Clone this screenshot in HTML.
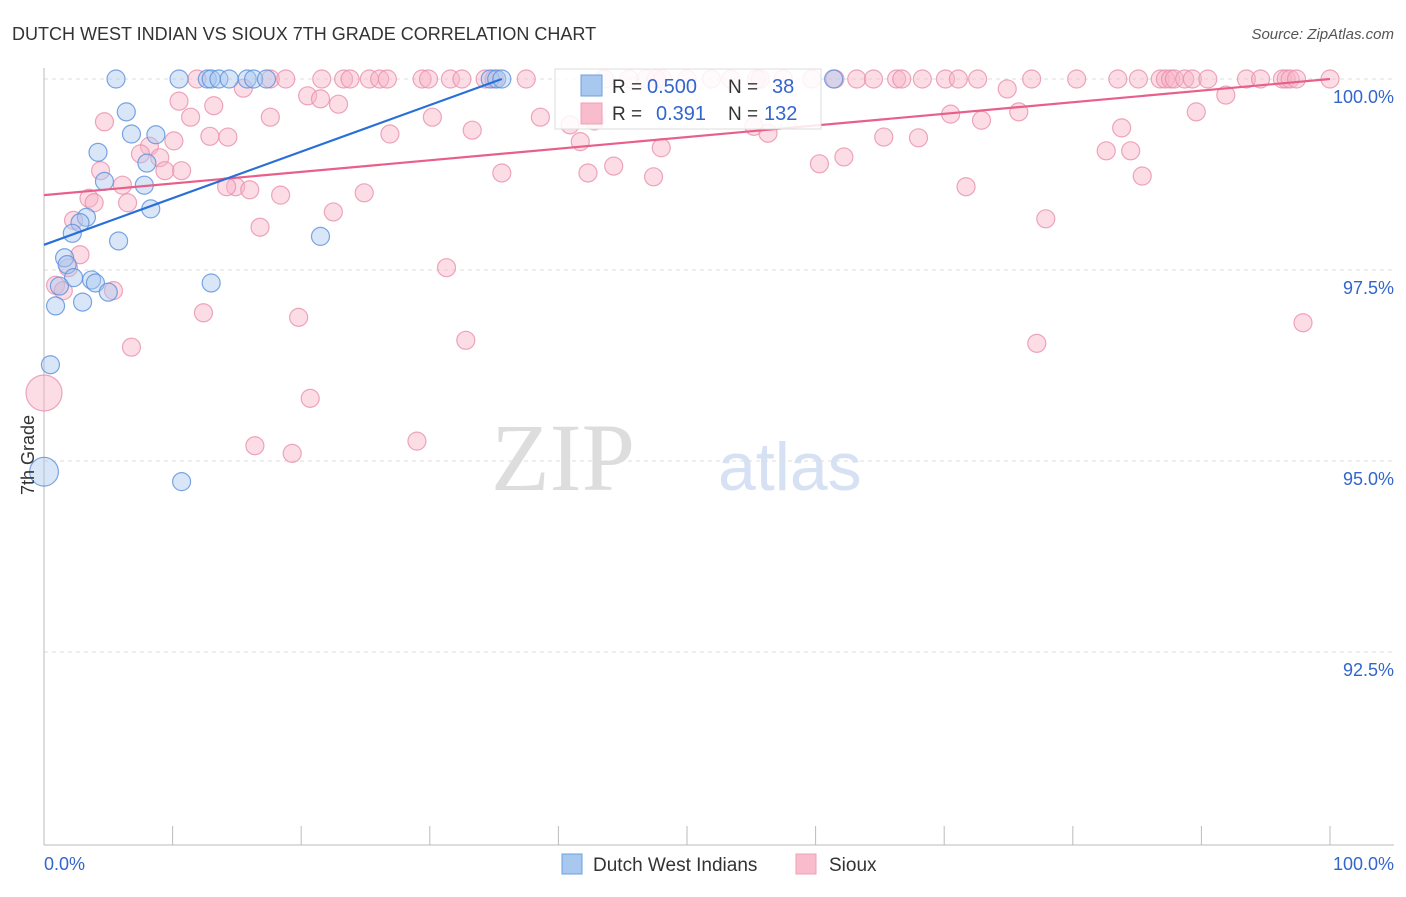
<!DOCTYPE html>
<html><head><meta charset="utf-8"><style>
body{margin:0;background:#fff;font-family:"Liberation Sans",sans-serif}
svg text{font-family:"Liberation Sans",sans-serif}
</style></head><body>
<svg id="chart" width="1406" height="892" xmlns="http://www.w3.org/2000/svg">
<text x="12" y="40" font-size="18" fill="#333">DUTCH WEST INDIAN VS SIOUX 7TH GRADE CORRELATION CHART</text>
<text x="1394" y="39" font-size="15" fill="#555" text-anchor="end" font-style="italic">Source: ZipAtlas.com</text>
<text x="635" y="490" font-size="96" fill="#ddd" text-anchor="end" font-family="Liberation Serif" style="font-family:'Liberation Serif',serif">ZIP</text>
<text x="718" y="490" font-size="68" fill="#d6e2f3">atlas</text>
<g id="grid"></g><g id="axes"></g><g id="marks"></g><g id="lines"></g>
<g>
<rect x="555" y="69" width="266" height="60" fill="#fff" fill-opacity="0.85" stroke="#ddd"/>
<rect x="581" y="75" width="21" height="21" fill="#a8c8f0" stroke="#6a9fe0"/>
<rect x="581" y="103" width="21" height="21" fill="#f8bccd" stroke="#f0a0b8"/>
<text x="612" y="93" font-size="19" fill="#333">R = </text><text x="647" y="93" font-size="20" fill="#3366cc">0.500</text>
<text x="728" y="93" font-size="19" fill="#333">N = </text><text x="772" y="93" font-size="20" fill="#3366cc">38</text>
<text x="612" y="120" font-size="19" fill="#333">R = </text><text x="656" y="120" font-size="20" fill="#3366cc">0.391</text>
<text x="728" y="120" font-size="19" fill="#333">N = </text><text x="764" y="120" font-size="20" fill="#3366cc">132</text>
</g>
<g>
<rect x="562" y="854" width="20" height="20" fill="#a8c8f0" stroke="#6a9fe0"/>
<text x="593" y="871" font-size="19" fill="#333">Dutch West Indians</text>
<rect x="796" y="854" width="20" height="20" fill="#f8bccd" stroke="#f0a0b8"/>
<text x="829" y="871" font-size="19" fill="#333">Sioux</text>
</g>
<text x="34" y="455" font-size="18" fill="#333" text-anchor="middle" transform="rotate(-90 34 455)">7th Grade</text>
<text x="44" y="870" font-size="18" fill="#3366cc">0.0%</text>
<text x="1394" y="870" font-size="18" fill="#3366cc" text-anchor="end">100.0%</text>
</svg>
<script>
const yTicks=[100,97.5,95,92.5];
const yTickLabels=["100.0%","97.5%","95.0%","92.5%"];
const xTicks=[0,10,20,30,40,50,60,70,80,90,100];
const dutchX=[5.6,10.5,12.7,13.0,13.6,14.4,15.8,16.3,17.3,34.7,35.2,35.6,61.4,6.4,6.8,8.7,4.2,8.0,4.7,7.8,8.3,3.3,2.8,2.2,5.8,21.5,1.6,1.8,3.7,4.0,2.3,1.2,5.0,13.0,3.0,0.9,0.5,0,10.7];
const dutchY=[100,100,100,100,100,100,100,100,100,100,100,100,100,99.57,99.28,99.27,99.04,98.90,98.66,98.61,98.30,98.19,98.12,97.98,97.88,97.94,97.66,97.57,97.37,97.33,97.40,97.29,97.21,97.33,97.08,97.03,96.26,94.86,94.73];
const dutchSize=[1,1,1,1,1,1,1,1,1,1,1,1,1,1,1,1,1,1,1,1,1,1,1,1,1,1,1,1,1,1,1,1,1,1,1,1,1,1.6,1];
const siouxTopX=[11.9,17.6,18.8,21.6,23.3,23.8,25.3,26.1,26.7,29.4,29.9,31.6,32.5,34.3,35.0,37.5,43.6,45.5,46.8,47.6,48.1,50.0,51.9,53.4,55.4,55.7,57.5,59.7,61.5,63.2,64.5,66.3,66.7,68.3,70.1,71.1,72.6,76.8,80.3,83.5,85.1,86.8,87.2,87.6,87.9,88.7,89.3,90.5,93.5,94.6,96.3,96.6,96.9,97.4,100];
const siouxX=[4.7,10.5,11.4,13.2,15.5,17.6,20.5,21.5,22.9,10.1,14.3,12.9,8.2,7.5,9.0,4.4,6.1,9.4,10.7,6.5,3.5,3.9,2.3,2.8,1.9,0.9,1.5,5.4,6.8,12.4,19.8,16.8,14.9,16.0,18.4,14.2,20.7,16.4,19.3,29.0,31.3,32.8,22.5,24.9,26.9,30.2,33.3,35.6,38.6,40.9,42.8,41.7,42.3,44.3,47.4,48.0,55.2,56.3,60.3,62.2,65.3,68.0,70.5,71.7,72.9,74.9,75.8,77.9,77.2,82.6,83.8,84.5,85.4,89.6,91.9,97.9,0];
const siouxY=[99.44,99.71,99.50,99.65,99.88,99.50,99.78,99.74,99.67,99.19,99.24,99.25,99.12,99.02,98.97,98.80,98.61,98.80,98.80,98.38,98.44,98.38,98.15,97.70,97.53,97.30,97.23,97.23,96.49,96.94,96.88,98.06,98.59,98.55,98.48,98.59,95.82,95.20,95.10,95.26,97.53,96.58,98.26,98.51,99.28,99.50,99.33,98.77,99.50,99.40,99.45,99.18,98.77,98.86,98.72,99.10,99.38,99.29,98.89,98.98,99.24,99.23,99.54,98.59,99.46,99.87,99.57,98.17,96.54,99.06,99.36,99.06,98.73,99.57,99.79,96.81,95.89];
const dutchTrend=[[0,97.83],[35.6,100]];
const siouxTrend=[[0,98.48],[100,100]];
const NS="http://www.w3.org/2000/svg";
const X=v=>44+v*12.86, Y=v=>79+(100-v)*76.4;
function mk(t,a,p){const e=document.createElementNS(NS,t);for(const k in a)e.setAttribute(k,a[k]);document.getElementById(p).appendChild(e);return e;}
yTicks.forEach((t,i)=>{
 const l=mk('line',{x1:44,x2:1394,y1:Y(t),y2:Y(t),stroke:'#ddd','stroke-dasharray':'4 4'},'grid');
 
 
 const tx=mk('text',{x:1394,y:Y(t)+24,'font-size':18,fill:'#3366cc','text-anchor':'end'},'grid');
 tx.textContent=yTickLabels[i];
 
 
});
const ax=mk('line',{x1:44,x2:44,y1:68,y2:845,stroke:'#bbb'},'axes');


const bx=mk('line',{x1:44,x2:1394,y1:845,y2:845,stroke:'#bbb'},'axes');


xTicks.forEach(t=>{
 const l=mk('line',{x1:X(t),x2:X(t),y1:826,y2:845,stroke:'#bbb'},'axes');
 
 
});
function dot(x,y,r,fill,stroke,name){
 const c=mk('circle',{cx:X(x),cy:Y(y),r:r,fill:fill,'fill-opacity':0.45,stroke:stroke,'stroke-opacity':0.8,'stroke-width':1.2},'marks');
 
 
}
siouxTopX.forEach(x=>dot(x,100,9,'#f8b4c8','#e890ac','sioux-point'));
siouxX.forEach((x,i)=>dot(x,siouxY[i],i===siouxX.length-1?18:9,'#f8b4c8','#e890ac','sioux-point'));
dutchX.forEach((x,i)=>dot(x,dutchY[i],9*dutchSize[i],'#a8c8f0','#5a90dc','dutch-point'));
const t1=mk('line',{x1:X(siouxTrend[0][0]),y1:Y(siouxTrend[0][1]),x2:X(siouxTrend[1][0]),y2:Y(siouxTrend[1][1]),stroke:'#e8608a','stroke-width':2.2},'lines');


const t2=mk('line',{x1:X(dutchTrend[0][0]),y1:Y(dutchTrend[0][1]),x2:X(dutchTrend[1][0]),y2:Y(dutchTrend[1][1]),stroke:'#2a6fd8','stroke-width':2.2},'lines');


</script>
</body></html>
